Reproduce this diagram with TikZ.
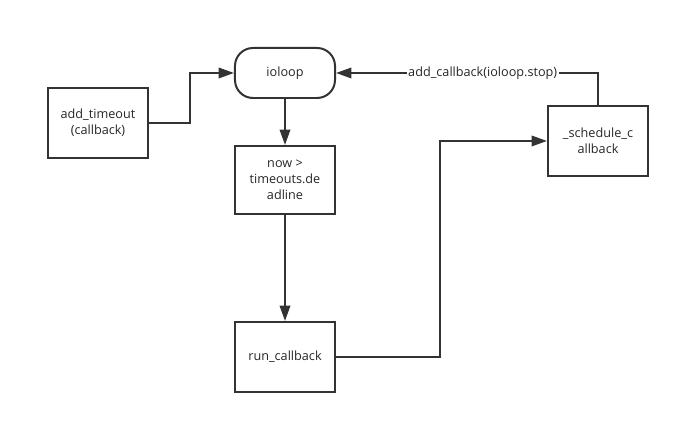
\documentclass[tikz,border=0pt]{standalone}
\usepackage{fontspec}
\setmainfont{Open Sans}
\usetikzlibrary{positioning,arrows.meta}
\begin{document}
\begin{tikzpicture}[x=0.025cm,y=-0.025cm,
    blocco/.style={draw=black!80, text=black!85, line width=1.42pt, align=center, font=\fontsize{9}{11.5}\selectfont, inner sep=2pt, minimum width=2.5cm},
    freccia/.style={draw=black!80, line width=1.42pt, -{Triangle[length=11pt,width=7.5pt]}}]
    \useasboundingbox (0,0) rectangle (680,425);
    % Disegna i blocchi
    \node[blocco, rounded corners=0.45cm, minimum height=1.25cm] (ioloop) at (285,73) {ioloop};
    \node[blocco, minimum height=1.75cm] (timeout) at (98,123) {add\_timeout\\(callback)};
    \node[blocco, minimum height=1.7cm] (check) at (285,180) {now >\\timeouts.de\\adline};
    \node[blocco, minimum height=1.75cm] (run) at (285,357) {run\_callback};
    \node[blocco, minimum height=1.75cm] (schedule) at (598,141) {\_schedule\_c\\allback};
    % Disegna le frecce
    \draw[freccia] (timeout.east) -| (190,98) |- (ioloop.west);
    \draw[freccia] (ioloop) -- (check);
    \draw[freccia] (check) -- (run);
    \draw[freccia] (run.east) -| (440,250) |- (schedule.west);
    \draw[freccia] (schedule.north) |- (ioloop.east)
        node[pos=0.72, fill=white, text=black!85, inner sep=1pt, font=\fontsize{9}{11}\selectfont] (label) {add\_callback(ioloop.stop)};
\end{tikzpicture}
\end{document}
